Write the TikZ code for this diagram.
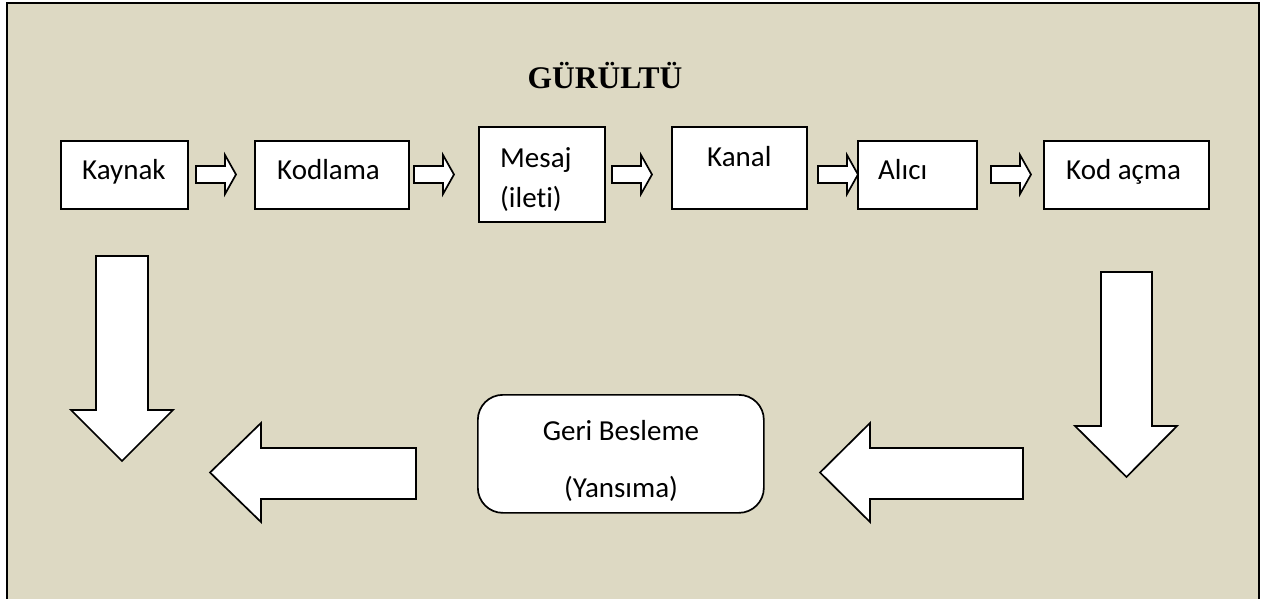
\documentclass[tikz,border=0pt]{standalone}
\usepackage{fontspec}
\setmainfont{Carlito}[Ligatures={NoCommon}]
\newfontfamily\titlefont{Liberation Serif}
\definecolor{bg}{RGB}{221,217,195}
\begin{document}
\begin{tikzpicture}[x=1pt,y=-1pt,
  box/.style={draw, line width=1.7pt, fill=white, inner sep=0pt, anchor=north west},
  txt/.style={inner sep=0pt, anchor=base west, font=\fontsize{29}{34}\selectfont},
  blk/.style={draw, line width=1.7pt, fill=white, line join=miter},
  rarrow/.pic={\draw[blk] (0,-8.5) -- (29,-8.5) -- (29,-19.5) -- (40,0) -- (29,19.5) -- (29,8.5) -- (0,8.5) -- cycle;}]
\useasboundingbox (0,0) rectangle (1262,598);
\clip (0,0) rectangle (1262,598);
\fill[white] (0,0) rectangle (1262,598);
\draw[line width=2.2pt, fill=bg] (7,3) rectangle (1259,620);
% title
\node[inner sep=0pt, anchor=base, font=\titlefont\bfseries\fontsize{31.5}{36}\selectfont] (title) at (605,88) {GÜRÜLTÜ};
% boxes
\node[box, minimum width=127pt, minimum height=68pt] (kaynak) at (60,140) {};
\node[box, minimum width=154pt, minimum height=68pt] (kodlama) at (254,140) {};
\node[box, minimum width=126pt, minimum height=95pt] (mesaj) at (478,126) {};
\node[box, minimum width=135pt, minimum height=82pt] (kanal) at (671,126) {};
\node[box, minimum width=119pt, minimum height=68pt] (alici) at (857,140) {};
\node[box, minimum width=165pt, minimum height=68pt] (kodacma) at (1043,140) {};
\node[box, minimum width=286pt, minimum height=118pt, rounded corners=25pt] (geri) at (477,394) {};
% texts
\node[txt] (t1) at (82,179) {Kaynak};
\node[txt] (t2) at (277,179) {Kodlama};
\node[txt] (t3) at (500,167) {Mesaj};
\node[txt] (t3b) at (500,207) {(ileti)};
\node[txt] (t4) at (707,166) {Kanal};
\node[txt] (t5) at (878,179) {Alıcı};
\node[txt] (t6) at (1066,179) {Kod açma};
\node[txt, anchor=base] (t7) at (621,440) {Geri Besleme};
\node[txt, anchor=base] (t7b) at (621,497) {(Yansıma)};
% small arrows
\pic (a1) at (196,174.5) {rarrow};
\pic (a2) at (414,174.5) {rarrow};
\pic (a3) at (612,174.5) {rarrow};
\pic (a4) at (818,174.5) {rarrow};
\pic (a5) at (991,174.5) {rarrow};
% big arrows
\draw[blk] (96,256) -- (148,256) -- (148,410) -- (173,410) -- (122,461) -- (71,410) -- (96,410) -- cycle;
\draw[blk] (1101,272) -- (1152,272) -- (1152,426) -- (1177,426) -- (1126.5,477) -- (1075,426) -- (1101,426) -- cycle;
\draw[blk] (416,448) -- (261,448) -- (261,423) -- (210,472.5) -- (261,522) -- (261,499) -- (416,499) -- cycle;
\draw[blk] (1023,448) -- (870,448) -- (870,423) -- (820,472.5) -- (870,522) -- (870,499) -- (1023,499) -- cycle;
\end{tikzpicture}
\end{document}
